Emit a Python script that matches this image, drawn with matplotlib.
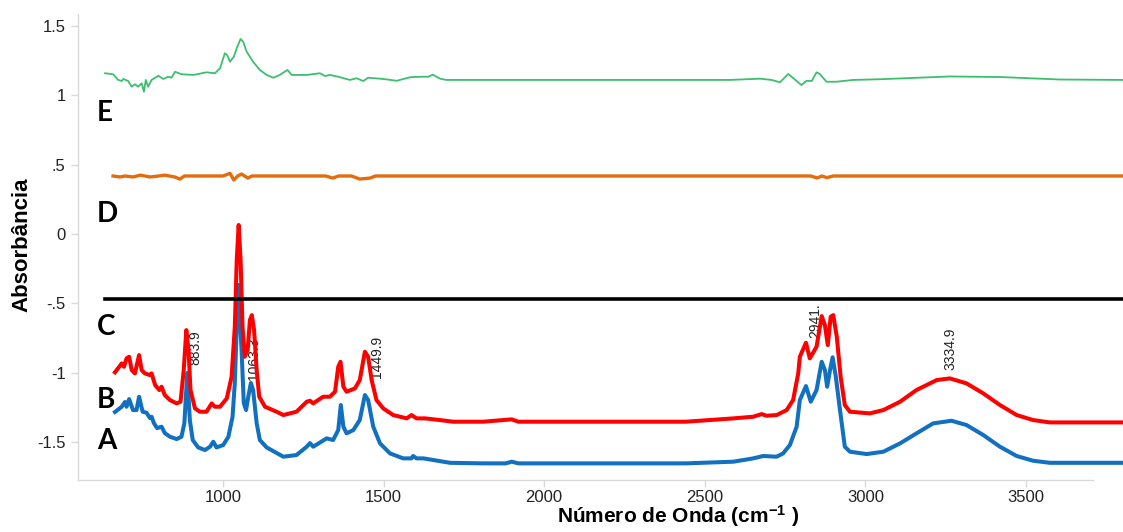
import numpy as np
import matplotlib
matplotlib.use("Agg")
import matplotlib.pyplot as plt

# Espectros FTIR
# A - azul
wn_a = [664, 685, 695, 700, 708, 720, 731, 739, 750, 762, 773, 778, 785, 795, 809, 819, 835, 856,
        871, 880, 889, 897, 906, 923, 944, 960, 970, 980, 1001, 1017, 1030, 1037, 1045, 1048, 1058,
        1065, 1072, 1079, 1087, 1094, 1105, 1115, 1136, 1188, 1229, 1261, 1271, 1281, 1323, 1343,
        1359, 1367, 1375, 1385, 1406, 1426, 1442, 1452, 1468, 1489, 1520, 1561, 1587, 1592, 1603,
        1624, 1655, 1707, 1810, 1880, 1899, 1920, 2441, 2589, 2651, 2682, 2724, 2744, 2765, 2786,
        2796, 2815, 2830, 2848, 2864, 2874, 2881, 2890, 2898, 2908, 2921, 2936, 2952, 3004, 3056,
        3108, 3159, 3211, 3268, 3315, 3367, 3419, 3471, 3522, 3574, 3802]
abs_a = [-1.282, -1.244, -1.210, -1.244, -1.189, -1.268, -1.268, -1.172, -1.280, -1.287, -1.326,
         -1.316, -1.362, -1.398, -1.388, -1.434, -1.460, -1.477, -1.460, -1.362, -1.001, -1.340,
         -1.484, -1.537, -1.556, -1.532, -1.496, -1.537, -1.520, -1.460, -1.316, -1.073, -0.548,
         -0.367, -0.836, -1.218, -1.268, -1.172, -1.073, -1.124, -1.362, -1.484, -1.537, -1.604,
         -1.592, -1.532, -1.506, -1.532, -1.472, -1.484, -1.412, -1.232, -1.388, -1.436, -1.412,
         -1.340, -1.160, -1.196, -1.388, -1.508, -1.580, -1.616, -1.616, -1.599, -1.616, -1.616,
         -1.628, -1.648, -1.652, -1.652, -1.640, -1.652, -1.652, -1.640, -1.616, -1.599, -1.604,
         -1.580, -1.520, -1.388, -1.196, -1.095, -1.208, -1.124, -0.920, -0.980, -1.100, -0.980,
         -0.888, -1.028, -1.268, -1.532, -1.568, -1.585, -1.568, -1.508, -1.436, -1.364, -1.345,
         -1.376, -1.448, -1.532, -1.599, -1.633, -1.648, -1.648]

# B - vermelho
wn_b = [664, 685, 692, 700, 708, 716, 726, 739, 747, 757, 773, 778, 789, 802, 809, 819, 835, 856,
        868, 878, 886, 893, 899, 913, 928, 949, 965, 975, 991, 1012, 1027, 1037, 1043, 1049, 1055,
        1061, 1068, 1077, 1084, 1090, 1097, 1105, 1113, 1131, 1167, 1188, 1229, 1261, 1271, 1281,
        1312, 1333, 1349, 1359, 1366, 1375, 1385, 1411, 1426, 1442, 1452, 1463, 1478, 1499, 1530,
        1572, 1587, 1603, 1629, 1675, 1717, 1810, 1899, 1920, 2441, 2589, 2651, 2677, 2692, 2724,
        2755, 2775, 2791, 2796, 2815, 2827, 2848, 2864, 2874, 2883, 2892, 2900, 2911, 2923, 2936,
        2952, 3014, 3056, 3108, 3159, 3222, 3263, 3315, 3367, 3419, 3471, 3522, 3574, 3802]
abs_b = [-0.996, -0.932, -0.956, -0.896, -0.884, -0.980, -1.004, -0.872, -0.980, -1.004, -1.016,
         -1.004, -1.088, -1.124, -1.100, -1.160, -1.196, -1.220, -1.208, -0.980, -0.692, -0.836,
         -1.124, -1.256, -1.280, -1.280, -1.220, -1.244, -1.244, -1.184, -1.028, -0.668, -0.187,
         0.065, -0.187, -0.668, -0.884, -0.836, -0.620, -0.584, -0.692, -0.980, -1.172, -1.244,
         -1.280, -1.304, -1.280, -1.208, -1.201, -1.220, -1.172, -1.172, -1.136, -0.956, -0.920,
         -1.100, -1.136, -1.112, -1.052, -0.848, -0.884, -1.052, -1.196, -1.256, -1.304, -1.328,
         -1.304, -1.328, -1.328, -1.340, -1.352, -1.352, -1.335, -1.352, -1.352, -1.328, -1.316,
         -1.297, -1.309, -1.304, -1.268, -1.196, -1.004, -0.884, -0.783, -0.896, -0.812, -0.591,
         -0.656, -0.800, -0.596, -0.584, -0.740, -1.028, -1.232, -1.280, -1.292, -1.268, -1.208,
         -1.124, -1.052, -1.040, -1.076, -1.148, -1.232, -1.304, -1.340, -1.357, -1.357]

# C - preto (constante)
wn_c = [633, 3802]
abs_c = [-0.468, -0.468]

# D - laranja
wn_d = [658, 680, 695, 720, 743, 773, 800, 819, 850, 866, 880, 1000, 1022, 1034, 1046, 1058, 1078,
        1090, 1320, 1342, 1360, 1400, 1426, 1458, 1475, 2830, 2850, 2865, 2880, 2900, 3802]
abs_d = [0.418, 0.411, 0.418, 0.411, 0.424, 0.411, 0.418, 0.424, 0.411, 0.396, 0.418, 0.418, 0.437,
         0.389, 0.418, 0.432, 0.403, 0.418, 0.418, 0.403, 0.418, 0.418, 0.396, 0.403, 0.418, 0.418,
         0.404, 0.418, 0.406, 0.418, 0.418]

# E - verde
wn_e = [633, 658, 674, 685, 690, 705, 716, 726, 736, 747, 754, 760, 767, 778, 799, 814, 830, 840,
        851, 871, 908, 949, 975, 991, 1006, 1013, 1022, 1034, 1043, 1055, 1063, 1074, 1094, 1115,
        1136, 1157, 1177, 1201, 1214, 1261, 1302, 1318, 1333, 1359, 1395, 1416, 1437, 1452, 1499,
        1541, 1582, 1613, 1639, 1653, 1676, 1696, 2578, 2672, 2708, 2734, 2760, 2801, 2817, 2833,
        2848, 2858, 2879, 2910, 2962, 3045, 3263, 3419, 3606, 3802]
abs_e = [1.158, 1.151, 1.110, 1.102, 1.117, 1.102, 1.061, 1.079, 1.061, 1.086, 1.025, 1.110, 1.061,
         1.110, 1.140, 1.117, 1.133, 1.126, 1.169, 1.151, 1.146, 1.165, 1.158, 1.194, 1.302, 1.290,
         1.241, 1.277, 1.338, 1.405, 1.385, 1.313, 1.241, 1.182, 1.146, 1.126, 1.146, 1.182, 1.146,
         1.146, 1.158, 1.138, 1.146, 1.133, 1.110, 1.122, 1.102, 1.126, 1.117, 1.104, 1.129, 1.133,
         1.133, 1.148, 1.119, 1.110, 1.110, 1.119, 1.110, 1.093, 1.153, 1.073, 1.104, 1.102, 1.165,
         1.153, 1.097, 1.097, 1.110, 1.115, 1.135, 1.131, 1.113, 1.110]

# rótulos das curvas e dos picos
curve_labels = ["A", "B", "C", "D", "E"]
curve_label_y = [-1.491, -1.196, -0.670, 0.144, 0.872]
peak_labels = ["883.9", "1063.3", "1449.9", "2941.", "3334.9"]
peak_x = [913, 1097, 1479, 2843, 3266]
peak_y = [-0.944, -1.052, -1.037, -0.749, -0.980]

yticks = [1.5, 1, 0.5, 0, -0.5, -1, -1.5]
ytick_labels = ["1.5", "1", ".5", "0", "-.5", "-1", "-1.5"]
xticks = [1000, 1500, 2000, 2500, 3000, 3500]

plt.rcParams['font.family'] = ['Liberation Sans', 'DejaVu Sans']
plt.rcParams['mathtext.fontset'] = 'custom'
plt.rcParams['mathtext.rm'] = 'Liberation Sans:bold'
plt.rcParams['mathtext.default'] = 'rm'

fig = plt.figure(figsize=(11.23, 5.32), dpi=100)
ax = fig.add_axes([0.0695, 0.0977, 0.9305, 0.876])

ax.plot(wn_e, abs_e, color='#3cbf6e', lw=1.3, zorder=3)
ax.plot(wn_d, abs_d, color='#e46c0a', lw=2.4, zorder=3)
ax.plot(wn_c, abs_c, color='black', lw=2.6, zorder=4)
ax.plot(wn_a, abs_a, color='#1170c0', lw=2.9, zorder=3)
ax.plot(wn_b, abs_b, color='#ff0000', lw=2.9, zorder=3)

# números dos picos (por baixo das linhas)
for lab, px, py in zip(peak_labels, peak_x, peak_y):
    ax.text(px, py, lab, rotation=90, ha='center', va='bottom', fontsize=10,
            color='#222222', zorder=2)

for lab, ly in zip(curve_labels, curve_label_y):
    ax.text(608, ly, lab, ha='left', va='center', fontsize=20, fontweight='bold',
            family=['Lato', 'DejaVu Sans'], zorder=5)

ax.set_xlim(549, 3802)
ax.set_ylim(-1.772, 1.585)
ax.set_yticks(yticks)
ax.set_yticklabels(ytick_labels)
ax.set_xticks(xticks)
ax.tick_params(axis='both', colors='#d9d9d9', labelcolor='#222222', labelsize=12,
               length=5, width=1)
ax.tick_params(axis='y', pad=4)
ax.tick_params(axis='x', pad=2)

for s in ['top', 'right']:
    ax.spines[s].set_visible(False)
for s in ['left', 'bottom']:
    ax.spines[s].set_color('#d9d9d9')
    ax.spines[s].set_linewidth(1)
ax.spines['bottom'].set_bounds(549, 3709)

fig.text(0.0196, 0.54, "Absorbância", rotation=90, ha='center', va='center',
         fontsize=16, fontweight='bold')
fig.text(0.604, 0.017, "Número de Onda (cm$^{-1}$ )", ha='center', va='baseline',
         fontsize=15, fontweight='bold')

fig.savefig("out.png", dpi=100)
